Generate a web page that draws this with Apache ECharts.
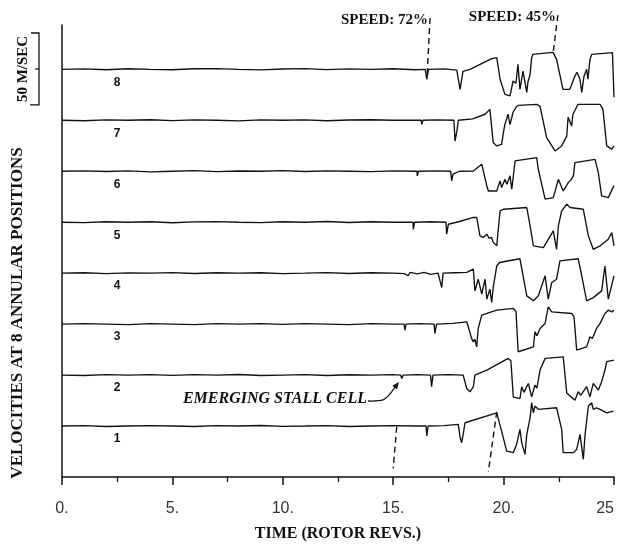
<!DOCTYPE html>
<html><head><meta charset="utf-8">
<script src="https://cdn.jsdelivr.net/npm/echarts@6/dist/echarts.min.js"></script>
<style>html,body{margin:0;padding:0;background:#fff}#c{width:620px;height:544px}</style>
</head><body><div id="c"></div>
<script>
// x axis (rotor revolutions)
const xTicks = [0, 5, 10, 15, 20, 25];
const tickLabels = ['0.', '5.', '10.', '15.', '20.', '25'];
const traceNames = ['1', '2', '3', '4', '5', '6', '7', '8'];

// velocity deviation (m/s) vs time (rotor revs) for each annular position
const trace1 = [[0,0],[1,0.3],[2,-0.3],[3,0],[4,0.3],[5,0],[6,-0.3],[7,0.3],[8,0],[9,0.4],[10,-0.2],[11,0],[12,0.3],[13,-0.3],[14,0],[15,0.3],[16.0,0],[16.49,0],[16.52,-6.9],[16.58,0],[17.3,0.3],[17.95,1.2],[18.03,-8],[18.1,-11.6],[18.18,-5],[18.25,2.3],[19.69,9.2],[19.77,9.2],[19.91,-3.5],[20.14,-17.4],[20.44,-18.5],[20.59,-12.7],[20.74,-2.3],[20.82,-11.6],[20.97,-19.7],[21.05,-5.8],[21.2,5.8],[21.27,16.2],[21.35,9.2],[21.42,13.9],[21.57,11.6],[22.4,12.7],[22.63,-2.3],[22.7,-18.5],[23.16,-18.5],[23.31,-16.2],[23.46,-5.8],[23.61,-23.1],[23.69,-5.8],[23.84,13.9],[23.99,16.2],[24.06,11.6],[24.21,12.7],[24.37,11.6],[24.67,9.2],[24.97,10.4]];
const trace2 = [[0,0],[1,-0.3],[2,0.3],[3,0],[4,0.3],[5,-0.2],[6,0.3],[7,0],[8,0.4],[9,-0.3],[10,0],[11,0.3],[12,-0.3],[13,0.2],[14,0],[15,0.3],[15.33,0],[15.39,-2.3],[15.45,0],[16.1,0.3],[16.69,0],[16.74,-8.1],[16.8,0],[17.5,0.3],[18.17,0],[18.33,-9.3],[18.48,-11.6],[18.63,-8.1],[18.7,0],[19.24,3.5],[20.21,11.6],[20.33,10],[20.44,-15.3],[20.74,-16.4],[20.82,-8.1],[20.92,-12],[21.12,-5.8],[21.27,-15.1],[21.42,-6.9],[21.51,-9],[21.65,3.5],[21.88,11.6],[22.7,12.7],[22.86,-12.5],[23.23,-17.4],[23.38,-11.6],[23.5,-14],[23.76,-8.1],[23.91,-15.1],[24.06,-5.8],[24.29,-10.4],[24.44,-4.6],[24.59,3.5],[24.67,9.3],[25.0,10.4]];
const trace3 = [[0,0],[1,0.3],[2,0],[3,-0.3],[4,0.3],[5,0],[6,-0.3],[7,0.4],[8,0],[9,0.3],[10,-0.2],[11,0.3],[12,0],[13,-0.3],[14,0.3],[15,0],[15.49,0],[15.53,-4.2],[15.58,0],[16.2,0.3],[16.85,0],[16.89,-6.5],[16.96,0],[17.7,0.5],[18.33,1.6],[18.4,-1.8],[18.55,-9.9],[18.63,-12.3],[18.7,-10.5],[18.78,-15.8],[18.85,-3],[19.01,6.3],[19.24,7.4],[19.69,9.7],[20.44,10.9],[20.56,9],[20.66,-19.2],[21.35,-15.8],[21.42,-5.3],[21.51,-8],[21.65,-3],[21.88,0.5],[22.02,12],[22.18,8.5],[23.08,7.4],[23.19,5],[23.31,-18],[23.76,-15.8],[23.91,-8.8],[24.02,-10],[24.21,-3],[24.37,0.5],[24.59,7.4],[24.74,9.7],[24.9,8.5],[25.0,9.7]];
const trace4 = [[0,0],[1,0.3],[2,-0.3],[3,0.2],[4,0],[5,0.4],[6,-0.2],[7,0.3],[8,0],[9,0.3],[10,-0.3],[11,0],[12,0.4],[13,-0.2],[14,0.3],[15,0],[15.5,-0.3],[15.68,-1.8],[15.76,0.5],[16.1,-0.5],[16.4,0.6],[16.7,-0.8],[17.03,0],[17.2,-10],[17.26,0],[17.8,0.3],[18.33,0.5],[18.63,2.8],[18.7,-12.3],[18.85,-4.2],[19.01,-14.6],[19.16,-4.2],[19.24,-18],[19.38,-11.1],[19.46,-20.4],[19.53,-9.9],[19.69,5],[19.81,7.4],[20.74,10],[21.05,-15.8],[21.35,-19.2],[21.57,-15.8],[21.88,-1.8],[22.02,-18],[22.18,-6.5],[22.4,-4.2],[22.55,8.5],[23.38,10],[23.54,-1.8],[23.76,-19.2],[24.06,-17],[24.44,-12.3],[24.59,5],[24.74,-18],[25.0,-1.8]];
const trace5 = [[0,0],[1,-0.3],[2,0.3],[3,0],[4,0.3],[5,-0.4],[6,0.2],[7,0.4],[8,0],[9,-0.3],[10,0.3],[11,0],[12,0.5],[13,-0.2],[14,0.3],[15,0],[15.9,0],[15.91,-4.9],[15.97,0],[16.7,0.3],[17.39,0],[17.42,-8.3],[17.5,-1.4],[18.0,0.5],[18.63,3.3],[18.78,3.3],[18.93,-9.5],[19.08,-10.6],[19.24,-8.3],[19.34,-11],[19.46,-10.6],[19.53,-14],[19.69,-16.4],[19.76,-4.9],[19.84,7.9],[19.99,9],[21.05,10.2],[21.2,-2.6],[21.35,-16.4],[21.8,-17.6],[22.25,-6],[22.4,-18.8],[22.48,-2.6],[22.63,7.9],[22.86,12.5],[23.01,10.2],[23.61,9],[23.84,-9.5],[24.06,-18.8],[24.37,-16.4],[24.74,-11.8],[24.9,-7.2],[25.0,-16.4]];
const trace6 = [[0,0],[1,0.3],[2,-0.2],[3,0.3],[4,-0.4],[5,0],[6,0.4],[7,-0.3],[8,0.2],[9,0],[10,0.4],[11,-0.2],[12,0.3],[13,0],[14,-0.3],[15,0.3],[16.08,0],[16.09,-3.2],[16.15,0],[17.0,0.3],[17.6,0],[17.65,-6.7],[17.71,-2],[18.0,0],[18.63,0.2],[19.01,4.9],[19.24,-10.2],[19.31,-13.7],[19.69,-13.7],[19.84,-6.7],[19.91,-11.3],[20.06,-5.6],[20.15,-9],[20.29,-3.2],[20.37,-12.5],[20.52,7.2],[20.59,7.2],[21.5,9.5],[21.57,1.4],[21.88,-19.4],[22.25,-18.3],[22.48,-5.6],[22.7,-13.7],[22.93,-7.9],[23.05,-6],[23.16,-3.2],[23.23,6],[23.31,7.2],[24.14,8.3],[24.29,-1],[24.44,-17.1],[24.74,-18.3],[25.0,-10]];
const trace7 = [[0,0],[1,-0.3],[2,0.3],[3,0],[4,0.4],[5,-0.2],[6,0.3],[7,0],[8,-0.4],[9,0.3],[10,0],[11,0.3],[12,-0.3],[13,0.2],[14,0.4],[15,0],[16.27,0],[16.29,-2.8],[16.35,0],[17.0,0.3],[17.75,0],[17.8,-14.4],[17.89,-7],[17.95,0],[18.6,1],[19.16,4.2],[19.38,7.6],[19.53,-15.5],[19.69,-17.8],[19.91,-16.7],[19.99,-8.5],[20.06,-2.8],[20.2,4.2],[20.29,-3],[20.37,-4],[20.43,5.6],[20.56,9],[20.67,10.4],[21.5,11.1],[21.65,9.7],[21.95,-12],[22.33,-21.3],[22.63,-17.8],[22.86,-11],[22.92,2.1],[23.08,-4],[23.14,4.2],[23.37,11.1],[24.37,11.1],[24.5,7.6],[24.67,-17.8],[24.9,-20],[25.0,-17.8]];
const trace8 = [[0,0],[1,0.3],[2,-0.3],[3,0.4],[4,0],[5,-0.3],[6,0.4],[7,0.5],[8,0],[9,-0.4],[10,0.2],[11,0.5],[12,-0.2],[13,0.3],[14,0],[15,0.4],[16,-0.3],[16.45,0],[16.52,-6.9],[16.6,0],[17.3,0.3],[17.88,-0.5],[18.03,-13.9],[18.16,-1.4],[18.48,0],[19.46,7.4],[19.69,8.1],[19.84,-6.9],[20.06,-17.4],[20.29,-18.5],[20.43,-8.1],[20.56,-9.7],[20.65,3.5],[20.74,-13.9],[20.88,-1.2],[21.05,-16],[21.1,-9],[21.2,-3.5],[21.27,8.1],[21.33,10.4],[22.1,11.6],[22.24,11.8],[22.4,6.9],[22.69,-13.9],[23.0,-13.9],[23.23,-4.7],[23.32,-2],[23.46,-6.9],[23.54,-16],[23.64,-4.9],[23.76,0],[23.82,-6.9],[23.91,6.9],[23.99,10.4],[24.93,11.6],[25.0,-19.4]];
const traces = [trace1, trace2, trace3, trace4, trace5, trace6, trace7, trace8];

const SCALE_BAR = 50;     // m/s
const SPACING = 35.4;     // m/s offset between stacked traces
const Y_MAX = 314;

// annotation anchors (data coords)
const speedNotes = [
  {text: 'SPEED: 72%', top: [16.67, 318.8], bottom: [16.53, 277.1]},
  {text: 'SPEED: 45%', top: [22.46, 320.8], bottom: [22.24, 294.4]}
];
const stallLines = [[[15.16, 34.9], [15.0, 6.0]], [[19.69, 45.3], [19.31, 3.7]]];
const stallArrowTip = [15.26, 66];

const chart = echarts.init(document.getElementById('c'), null, {renderer: 'canvas'});
const INK = '#111';
const series = traces.map((t, i) => ({
  type: 'line', name: traceNames[i], symbol: 'none', showSymbol: false, silent: true,
  data: t.map(p => [p[0], p[1] + (i + 1) * SPACING]),
  lineStyle: {color: INK, width: 1.35}
}));

chart.setOption({
  animation: false,
  grid: {left: 62, right: 6, top: 25, bottom: 67, outerBoundsMode: 'none'},
  xAxis: {
    type: 'value', min: 0, max: 25, interval: 5,
    axisLine: {lineStyle: {color: INK, width: 1.5}},
    axisTick: {length: 8, lineStyle: {color: INK, width: 1.5}},
    minorTick: {show: true, splitNumber: 2, length: 5, lineStyle: {color: INK, width: 1.2}},
    splitLine: {show: false},
    axisLabel: {margin: 24, formatter: v => tickLabels[xTicks.indexOf(v)], fontFamily: 'Liberation Sans', fontSize: 16, color: '#333', alignMaxLabel: 'right'},
    name: 'TIME (ROTOR REVS.)', nameLocation: 'middle', nameGap: 49,
    nameTextStyle: {fontFamily: 'Liberation Serif', fontWeight: 'bold', fontSize: 16, color: INK}
  },
  yAxis: {
    type: 'value', min: 0, max: Y_MAX,
    axisLine: {show: true, lineStyle: {color: INK, width: 1.5}},
    axisTick: {show: false}, axisLabel: {show: false}, splitLine: {show: false}
  },
  series
});

const px = p => chart.convertToPixel({gridIndex: 0}, p);
const g = [];
const serif = 'Liberation Serif';
// y title
g.push({type: 'text', x: 18, y: 313, rotation: Math.PI / 2,
  style: {text: 'VELOCITIES AT 8 ANNULAR POSITIONS', font: 'bold 17px "' + serif + '"', fill: INK, align: 'center', verticalAlign: 'middle'}});
// scale bar (length = SCALE_BAR m/s on the y scale)
const barLen = px([0, 0])[1] - px([0, SCALE_BAR])[1];
const bTop = 33, bBot = 33 + barLen, bx = 39;
g.push({type: 'polyline', shape: {points: [[31, bTop], [bx, bTop], [bx, bBot], [30, bBot]]}, style: {stroke: INK, lineWidth: 1.3, fill: null}});
g.push({type: 'line', shape: {x1: 35, y1: (bTop + bBot) / 2, x2: bx, y2: (bTop + bBot) / 2}, style: {stroke: INK, lineWidth: 1.2}});
g.push({type: 'text', x: 23, y: (bTop + bBot) / 2, rotation: Math.PI / 2,
  style: {text: SCALE_BAR + ' M/SEC', font: 'bold 15px "' + serif + '"', fill: INK, align: 'center', verticalAlign: 'middle'}});
// trace labels
traceNames.forEach((n, i) => {
  const p = px([2.5, (i + 1) * SPACING]);
  g.push({type: 'text', x: p[0], y: p[1] + 13, style: {text: n, font: 'bold 12px "Liberation Sans"', fill: INK, align: 'center', verticalAlign: 'middle'}});
});
// speed notes
speedNotes.forEach(s => {
  const a = px(s.top), b = px(s.bottom);
  g.push({type: 'line', shape: {x1: a[0], y1: a[1], x2: b[0], y2: b[1]}, style: {stroke: INK, lineWidth: 1.4, lineDash: [6, 4]}});
  g.push({type: 'text', x: a[0] - 2, y: a[1] + 2, style: {text: s.text, font: 'bold 15px "' + serif + '"', fill: INK, align: 'right', verticalAlign: 'middle'}});
});
stallLines.forEach(l => {
  const a = px(l[0]), b = px(l[1]);
  g.push({type: 'line', shape: {x1: a[0], y1: a[1], x2: b[0], y2: b[1]}, style: {stroke: INK, lineWidth: 1.4, lineDash: [6, 4]}});
});
// emerging stall cell arrow
const t = px(stallArrowTip);
g.push({type: 'text', x: t[0] - 32, y: t[1] + 17, style: {text: 'EMERGING STALL CELL', font: 'italic bold 16px "' + serif + '"', fill: INK, align: 'right', verticalAlign: 'middle'}});
g.push({type: 'polyline', shape: {points: [[t[0] - 31, t[1] + 19], [t[0] - 16, t[1] + 18], [t[0] - 9, t[1] + 12], [t[0] - 2, t[1] + 2]], smooth: 0.3}, style: {stroke: INK, lineWidth: 1.3, fill: null}});
g.push({type: 'polygon', shape: {points: [[t[0], t[1]], [t[0] - 1.8, t[1] + 7.4], [t[0] - 6.6, t[1] + 3.8]]}, style: {fill: INK}});
chart.setOption({graphic: g});
</script></body></html>
